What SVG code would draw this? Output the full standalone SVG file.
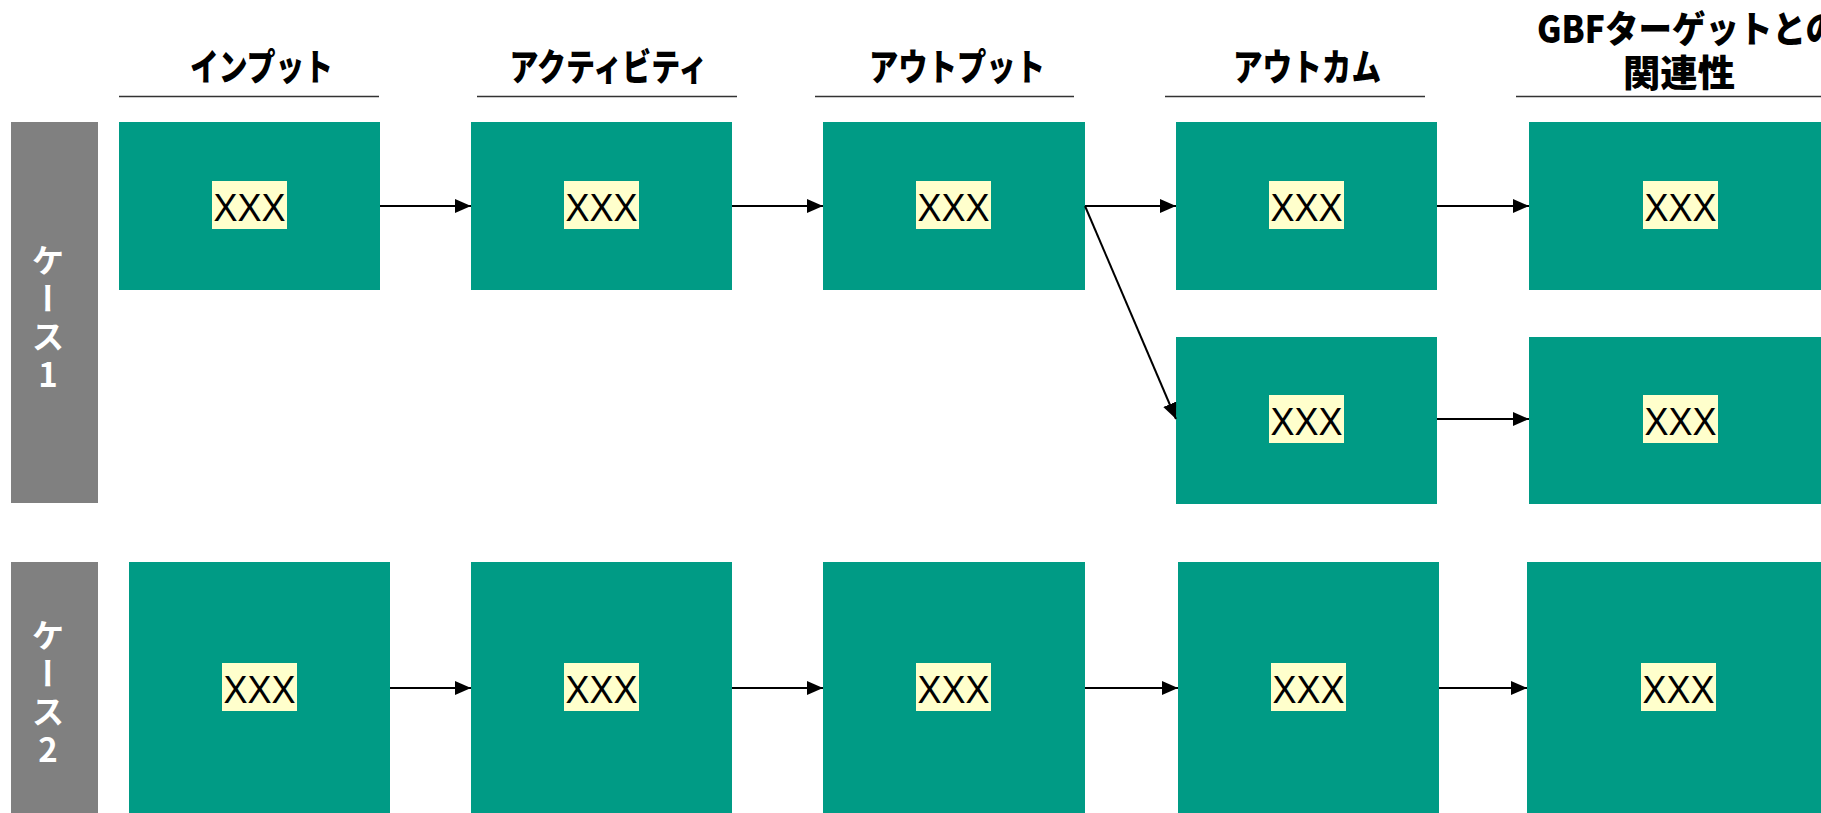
<svg xmlns="http://www.w3.org/2000/svg" width="1821" height="813" viewBox="0 0 1821 813">
<style>
.hdr{font-family:"Noto Sans CJK JP","Noto Sans",sans-serif;font-weight:900;font-size:37px;fill:#000}
.hline{stroke:#333;stroke-width:1.5}
.case{fill:#808080}
.ctext{font-family:"Noto Sans CJK JP","Noto Sans",sans-serif;font-weight:700;font-size:33px;fill:#fff;writing-mode:vertical-rl;text-orientation:upright;letter-spacing:5px}
.box{fill:#009B85}
.lbl{fill:#FFFFCC}
.xt{font-family:"Liberation Sans",Arial,sans-serif;font-size:38px;fill:#000;text-anchor:middle}
.conn{stroke:#000;stroke-width:2;fill:none;marker-end:url(#ah)}
</style>
<defs>
<marker id="ah" markerUnits="userSpaceOnUse" markerWidth="16" markerHeight="14" refX="16" refY="7" orient="auto">
<path d="M0,0 L16,7 L0,14 Z" fill="#000"/>
</marker>
</defs>
<rect width="1821" height="813" fill="#fff"/>
<g id="headers">
<text class="hdr" x="261.5" y="81" text-anchor="middle" textLength="143" lengthAdjust="spacingAndGlyphs">インプット</text>
<text class="hdr" x="608.5" y="81" text-anchor="middle" textLength="198" lengthAdjust="spacingAndGlyphs">アクティビティ</text>
<text class="hdr" x="957" y="81" text-anchor="middle" textLength="176" lengthAdjust="spacingAndGlyphs">アウトプット</text>
<text class="hdr" x="1307" y="81" text-anchor="middle" textLength="148" lengthAdjust="spacingAndGlyphs">アウトカム</text>
<text class="hdr" x="1537" y="43" textLength="302" lengthAdjust="spacingAndGlyphs">GBFターゲットとの</text>
<text class="hdr" x="1679" y="87" text-anchor="middle" textLength="112" lengthAdjust="spacingAndGlyphs">関連性</text>
<line class="hline" x1="119" y1="96.5" x2="379" y2="96.5"/>
<line class="hline" x1="477" y1="96.5" x2="737" y2="96.5"/>
<line class="hline" x1="815" y1="96.5" x2="1074" y2="96.5"/>
<line class="hline" x1="1165" y1="96.5" x2="1425" y2="96.5"/>
<line class="hline" x1="1516" y1="96.5" x2="1821" y2="96.5"/>
</g>
<g id="case1-label">
<rect class="case" x="11" y="122" width="87" height="381"/>
<text class="ctext" x="48" y="244">ケース1</text>
</g>
<g id="case2-label">
<rect class="case" x="11" y="562" width="87" height="251"/>
<text class="ctext" x="48" y="619">ケース2</text>
</g>
<g id="c1-input"><rect class="box" x="119" y="122" width="261" height="168"/><rect class="lbl" x="212" y="181" width="75" height="48"/><text class="xt" x="249.5" y="221" textLength="72" lengthAdjust="spacingAndGlyphs">XXX</text></g>
<g id="c1-activity"><rect class="box" x="471" y="122" width="261" height="168"/><rect class="lbl" x="564" y="181" width="75" height="48"/><text class="xt" x="601.5" y="221" textLength="72" lengthAdjust="spacingAndGlyphs">XXX</text></g>
<g id="c1-output"><rect class="box" x="823" y="122" width="262" height="168"/><rect class="lbl" x="916" y="181" width="75" height="48"/><text class="xt" x="953.5" y="221" textLength="72" lengthAdjust="spacingAndGlyphs">XXX</text></g>
<g id="c1-outcome1"><rect class="box" x="1176" y="122" width="261" height="168"/><rect class="lbl" x="1269" y="181" width="75" height="48"/><text class="xt" x="1306.5" y="221" textLength="72" lengthAdjust="spacingAndGlyphs">XXX</text></g>
<g id="c1-gbf1"><rect class="box" x="1529" y="122" width="292" height="168"/><rect class="lbl" x="1643" y="181" width="75" height="48"/><text class="xt" x="1680.5" y="221" textLength="72" lengthAdjust="spacingAndGlyphs">XXX</text></g>
<g id="c1-outcome2"><rect class="box" x="1176" y="337" width="261" height="167"/><rect class="lbl" x="1269" y="395" width="75" height="48"/><text class="xt" x="1306.5" y="435" textLength="72" lengthAdjust="spacingAndGlyphs">XXX</text></g>
<g id="c1-gbf2"><rect class="box" x="1529" y="337" width="292" height="167"/><rect class="lbl" x="1643" y="395" width="75" height="48"/><text class="xt" x="1680.5" y="435" textLength="72" lengthAdjust="spacingAndGlyphs">XXX</text></g>
<g id="c2-input"><rect class="box" x="129" y="562" width="261" height="251"/><rect class="lbl" x="222" y="663" width="75" height="48"/><text class="xt" x="259.5" y="703" textLength="72" lengthAdjust="spacingAndGlyphs">XXX</text></g>
<g id="c2-activity"><rect class="box" x="471" y="562" width="261" height="251"/><rect class="lbl" x="564" y="663" width="75" height="48"/><text class="xt" x="601.5" y="703" textLength="72" lengthAdjust="spacingAndGlyphs">XXX</text></g>
<g id="c2-output"><rect class="box" x="823" y="562" width="262" height="251"/><rect class="lbl" x="916" y="663" width="75" height="48"/><text class="xt" x="953.5" y="703" textLength="72" lengthAdjust="spacingAndGlyphs">XXX</text></g>
<g id="c2-outcome"><rect class="box" x="1178" y="562" width="261" height="251"/><rect class="lbl" x="1271" y="663" width="75" height="48"/><text class="xt" x="1308.5" y="703" textLength="72" lengthAdjust="spacingAndGlyphs">XXX</text></g>
<g id="c2-gbf"><rect class="box" x="1527" y="562" width="294" height="251"/><rect class="lbl" x="1641" y="663" width="75" height="48"/><text class="xt" x="1678.5" y="703" textLength="72" lengthAdjust="spacingAndGlyphs">XXX</text></g>
<g id="connectors">
<line class="conn" x1="380" y1="206" x2="471" y2="206"/>
<line class="conn" x1="732" y1="206" x2="823" y2="206"/>
<line class="conn" x1="1085" y1="206" x2="1176" y2="206"/>
<line class="conn" x1="1437" y1="206" x2="1529" y2="206"/>
<line class="conn" x1="1085" y1="206" x2="1176" y2="419"/>
<line class="conn" x1="1437" y1="419" x2="1529" y2="419"/>
<line class="conn" x1="390" y1="688" x2="471" y2="688"/>
<line class="conn" x1="732" y1="688" x2="823" y2="688"/>
<line class="conn" x1="1085" y1="688" x2="1178" y2="688"/>
<line class="conn" x1="1439" y1="688" x2="1527" y2="688"/>
</g>
</svg>
